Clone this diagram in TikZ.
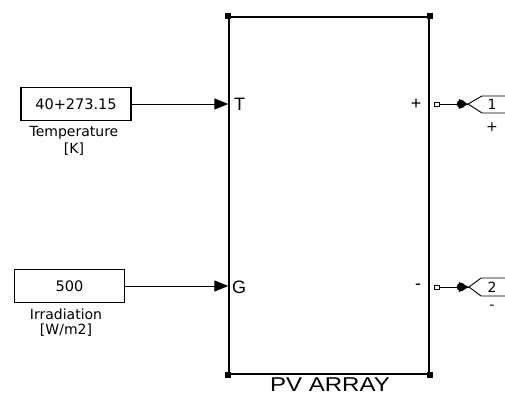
\documentclass[tikz,border=0pt]{standalone}
\usepackage{fontspec}
\setmainfont{Liberation Sans}
\newfontfamily\dv{DejaVu Sans}
\usetikzlibrary{arrows.meta}
\begin{document}
\begin{tikzpicture}[x=1pt,y=-1pt,
  constbox/.style={draw,line width=1.1pt,minimum width=110pt,minimum height=33pt,inner sep=0pt,font=\dv\fontsize{14.5}{16}\selectfont},
  lbl/.style={inner sep=0pt,font=\dv\fontsize{14}{16}\selectfont},
  portlbl/.style={inner sep=0pt,font=\fontsize{18}{20}\selectfont},
  arr/.style={line width=0.9pt,-{Triangle[length=14pt,width=11pt]}},
  handle/.style={fill=black,minimum size=6pt,inner sep=0pt},
  pport/.style={draw,line width=0.8pt,minimum width=5pt,minimum height=4pt,inner sep=0pt}]
\useasboundingbox (0,0) rectangle (505,396);
% PV block
\node[draw,line width=1.3pt,minimum width=200pt,minimum height=357pt,inner sep=0pt] (pv) at (329,195.5) {};
\foreach \c in {north west,north east,south west,south east}
  \node[handle] at (pv.\c) {};
\node[inner sep=0pt,font=\fontsize{20}{22}\selectfont,anchor=base,xscale=1.2,transform shape] (title) at (330,391) {PV ARRAY};
% inputs
\node[constbox] (temp) at (76,104) {40+273.15};
\node[lbl] (tl1) at (74,133) {Temperature};
\node[lbl] (tl2) at (74,149) {[K]};
\node[constbox] (irr) at (69.5,286) {500};
\node[lbl] (il1) at (66,314) {Irradiation};
\node[lbl] (il2) at (66,330) {[W/m2]};
\coordinate (inT) at (pv.west |- temp.east);
\coordinate (inG) at (pv.west |- irr.east);
\draw[arr] (temp.east) -- (inT);
\draw[arr] (irr.east) -- (inG);
\node[portlbl,anchor=west] (T) at (234,104) {T};
\node[portlbl,anchor=west] (G) at (232,287) {G};
\node[portlbl] (plus) at (416,104) {+};
\node[portlbl] (minus) at (418,287) {-};
% outputs
\node[pport] (p1) at (437,104) {};
\node[pport] (p2) at (437,287) {};
\coordinate (o1) at (468,104);
\coordinate (o2) at (469,287);
\draw[line width=0.9pt] (p1.east) -- (o1);
\draw[line width=0.9pt] (p2.east) -- (o2);
\fill (461,104) circle (4.3pt);
\fill (461,287) circle (4.3pt);
\fill (459,99) -- (468,104) -- (459,109) -- cycle;
\fill (459,282) -- (469,287) -- (459,292) -- cycle;
\draw[line width=0.9pt] (508,96) -- (482,96) -- (o1) -- (482,113) -- (508,113);
\draw[line width=0.9pt] (508,278) -- (481,278) -- (o2) -- (481,296) -- (508,296);
\node[lbl] (n1) at (492,104.5) {1};
\node[lbl] (n2) at (492,287) {2};
\node[lbl] (s1) at (492,127) {+};
\node[lbl] (s2) at (492,307) {-};
\end{tikzpicture}
\end{document}
